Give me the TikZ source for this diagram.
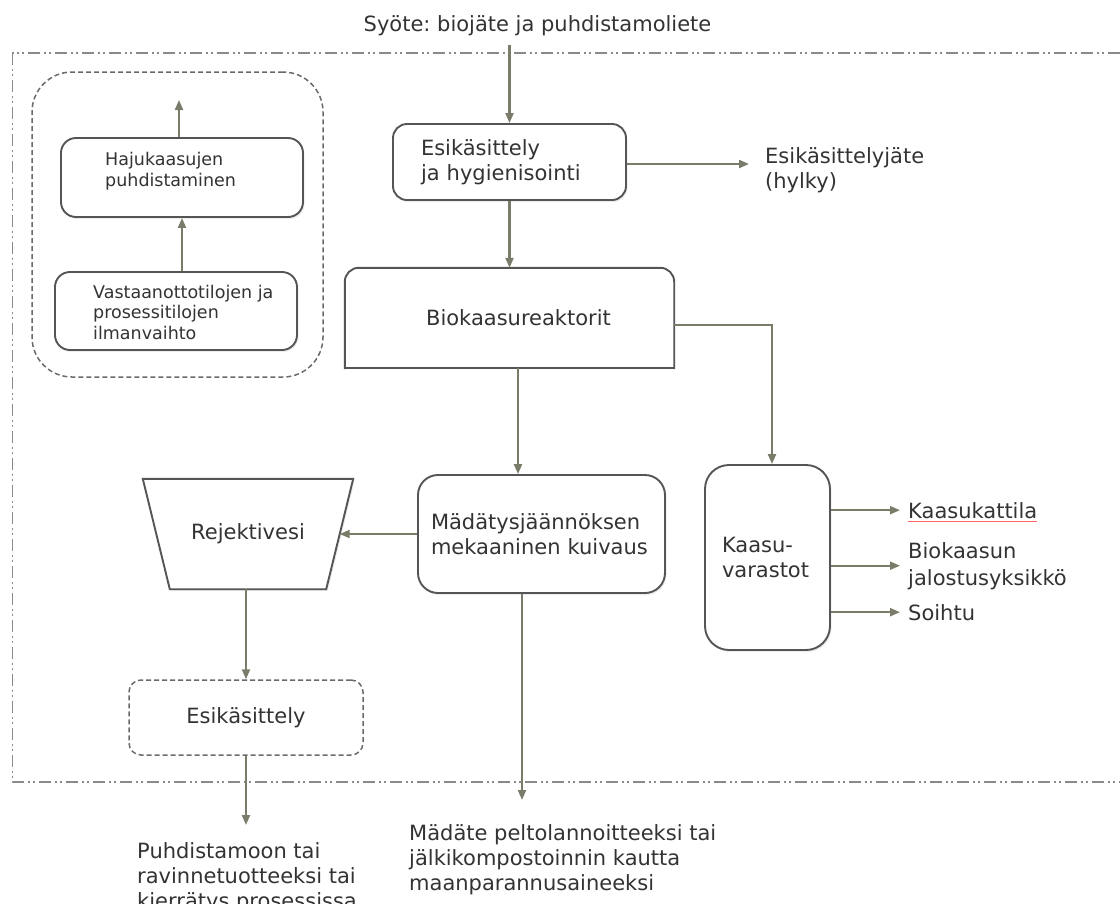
\documentclass[tikz,border=0pt]{standalone}
\usepackage{fontspec}
\setmainfont{DejaVu Sans}
\usetikzlibrary{arrows.meta,shapes.geometric,shadows}
\hyphenpenalty=10000
\frenchspacing
\definecolor{arrowc}{HTML}{7B7B6A}
\definecolor{boxc}{HTML}{555555}
\definecolor{txtc}{HTML}{333333}
\definecolor{framec}{HTML}{8A8A8A}
\definecolor{dashc}{HTML}{6A6A6A}
\begin{document}
\begin{tikzpicture}[x=1pt,y=-1pt,
  every node/.style={text=txtc, font=\fontsize{21}{25}\selectfont},
  arr/.style={draw=arrowc, line width=2.1pt, -{Triangle[length=10pt,width=8pt]}},
  shad/.style={drop shadow={opacity=0.15, shadow xshift=1.5pt, shadow yshift=-2pt}},
  box/.style={draw=boxc, line width=1.9pt, fill=white, rounded corners=#1, shad},
  box/.default=14pt,
  small/.style={font=\fontsize{17.5}{20.5}\selectfont},
  frame/.style={draw=framec, line width=1.8pt, dash pattern=on 12pt off 4pt on 2pt off 3pt on 2pt off 4pt},
  dashbox/.style={draw=dashc, line width=1.5pt, dash pattern=on 5pt off 3pt, rounded corners=#1},
  lbl/.style={inner sep=0pt, align=left, anchor=base west},
  bline/.style={draw=boxc, line width=1.9pt, line cap=rect},
]
\useasboundingbox (0,0) rectangle (1120,903);

% outer system boundary
\draw[frame] (1120,53) -- (12.5,53) -- (12.5,782) -- (1120,782);

% odour treatment group
\node[dashbox=40pt, minimum width=291pt, minimum height=305pt] (grp) at (177.5,224.5) {};
\node[box=15pt, minimum width=242pt, minimum height=79pt] (haju) at (182,177.5) {};
\node[lbl, small] (hajut) at (105,186) {Hajukaasujen\\puhdistaminen};
\node[box=15pt, minimum width=242pt, minimum height=78pt] (vast) at (176,311) {};
\node[lbl, small] (vastt) at (93,339) {Vastaanottotilojen ja\\prosessitilojen\\ilmanvaihto};
\draw[arr] (vast.north -| haju.center) -- (haju.south);
\coordinate (hajuout) at (179,100);
\draw[arr] (haju.north -| hajuout) -- (hajuout);

% input
\node[anchor=base] (title) at (537.5,31) {Syöte: biojäte ja puhdistamoliete};
\coordinate (in) at (509.5,45);

% main chain
\node[box=14pt, minimum width=233pt, minimum height=76pt, text width=177pt, inner xsep=28pt, align=left] (esik) at (509.5,162) {Esikäsittely\\ja hygienisointi};
\draw[arr] (in) -- (esik.north);
\node[lbl] (jate) at (765,188) {Esikäsittelyjäte\\(hylky)};
\draw[arr, shorten >=16pt] ([yshift=-2pt]esik.east) -- ([yshift=-2pt]esik.east -| jate.west);

\node[minimum width=329pt, minimum height=100pt, inner sep=0pt] (bio) at (509.5,318) {\hspace*{18pt}Biokaasureaktorit};
\draw[bline, rounded corners=14pt] (bio.south west) -- (bio.north west) -- (bio.north east) -- (bio.south east);
\draw[bline] (bio.south west) -- (bio.south east);
\draw[arr] (esik.south) -- (bio.north);

\node[box=20pt, minimum width=247pt, minimum height=118pt, text width=221pt, inner xsep=13pt, align=left] (mad) at (541.5,534) {Mädätysjäännöksen\\mekaaninen kuivaus};
\draw[arr] ([xshift=8.5pt]bio.south) -- ([xshift=8.5pt]bio.south |- mad.north);

\node[box=24pt, minimum width=125pt, minimum height=185pt, text width=91pt, inner xsep=17pt, align=left] (kaas) at (767.5,557.5) {Kaasu-\\varastot};
\draw[arr] ([yshift=-7pt]bio.east) -| ([xshift=4.5pt]kaas.north);

\node[lbl] (kk) at (908,518) {Kaasukattila};
\node[lbl, font=\fontsize{21}{27}\selectfont] (bjy) at (908,585) {Biokaasun\\jalostusyksikkö};
\node[lbl] (so) at (908,620) {Soihtu};
\draw[red!60, line width=0.9pt] ([yshift=-3.5pt]kk.base west) -- ([yshift=-3.5pt]kk.base east);
\draw[arr, shorten >=8pt] (kaas.east |- kk.west) -- (kk.west);
\draw[arr, shorten >=8pt] (kaas.east |- bjy.west) -- (bjy.west);
\draw[arr, shorten >=8pt] (kaas.east |- so.west) -- (so.west);

% reject water branch
\node[minimum width=210pt, minimum height=110pt, inner sep=0pt] (rej) at (248,534) {};
\draw[draw=boxc, line width=1.9pt, fill=white, shad] (rej.north west) -- (rej.north east) -- ([xshift=-27pt]rej.south east) -- ([xshift=27pt]rej.south west) -- cycle;
\node (rejtxt) at (rej.center) {Rejektivesi};
\draw[arr] (mad.west) -- ([xshift=-13.5pt]rej.east);
\node[dashbox=12pt, minimum width=234pt, minimum height=75pt] (esik2) at (246,717.5) {Esikäsittely};
\draw[arr] (rej.south -| esik2.north) -- (esik2.north);

% outputs
\coordinate (out1) at (246,825);
\draw[arr] (esik2.south) -- (out1);
\node[lbl] (o1) at (137,908) {Puhdistamoon tai\\ravinnetuotteeksi tai\\kierrätys prosessissa};
\coordinate (out2) at (522,800);
\draw[arr] (mad.south -| out2) -- (out2);
\node[lbl] (o2) at (409,890) {Mädäte peltolannoitteeksi tai\\jälkikompostoinnin kautta\\maanparannusaineeksi};
\end{tikzpicture}
\end{document}
